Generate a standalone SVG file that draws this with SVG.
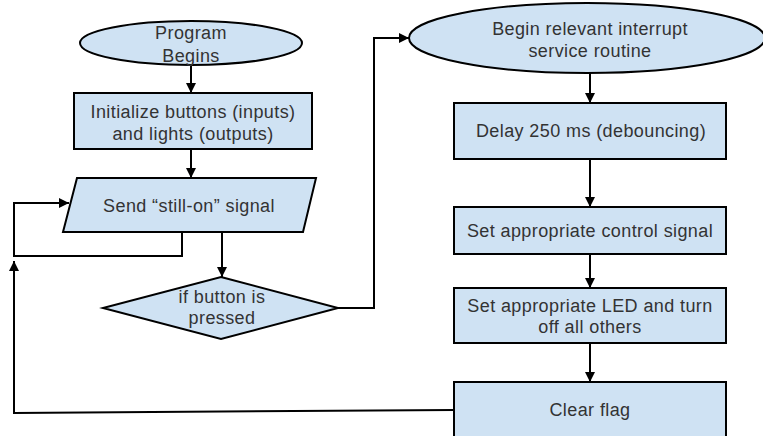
<svg xmlns="http://www.w3.org/2000/svg" width="763" height="436" viewBox="0 0 763 436">
  <defs>
    <marker id="arrow" viewBox="0 0 10 10" refX="10" refY="5" markerWidth="10" markerHeight="10" markerUnits="userSpaceOnUse" orient="auto">
      <path d="M0,0 L10,5 L0,10 Z" fill="#000"/>
    </marker>
  </defs>
  <style>
    .shape { fill: #cfe2f3; stroke: #000; stroke-width: 2; }
    .label { font-family: "Liberation Sans", Arial, sans-serif; font-size: 18px; letter-spacing: 0.4px; fill: #333; text-anchor: middle; }
    .edge { fill: none; stroke: #000; stroke-width: 2; }
  </style>
  <rect width="763" height="436" fill="#fff"/>

  <g id="connectors">
    <!-- main column on the left -->
    <line class="edge" x1="191" y1="65" x2="191" y2="93" marker-end="url(#arrow)"/>
    <line class="edge" x1="191" y1="149" x2="191" y2="178" marker-end="url(#arrow)"/>
    <line class="edge" x1="222" y1="232" x2="222" y2="277" marker-end="url(#arrow)"/>
    <!-- still-on loop -->
    <polyline class="edge" points="182,232 182,256 14,256 14,203 69,203" marker-end="url(#arrow)"/>
    <!-- decision to ISR -->
    <polyline class="edge" points="338,308 374,308 374,38 409,38" marker-end="url(#arrow)"/>
    <!-- ISR column -->
    <line class="edge" x1="590" y1="73" x2="590" y2="103" marker-end="url(#arrow)"/>
    <line class="edge" x1="590" y1="159" x2="590" y2="207" marker-end="url(#arrow)"/>
    <line class="edge" x1="590" y1="254" x2="590" y2="288" marker-end="url(#arrow)"/>
    <line class="edge" x1="590" y1="343" x2="590" y2="382" marker-end="url(#arrow)"/>
    <!-- return from clear flag -->
    <polyline class="edge" points="454,410 14,413 14,261" marker-end="url(#arrow)"/>
  </g>

  <g id="program-begins">
    <ellipse class="shape" cx="191" cy="43" rx="111" ry="22"/>
    <text class="label" x="191" y="39">Program</text>
    <text class="label" x="191" y="62">Begins</text>
  </g>

  <g id="initialize">
    <rect class="shape" x="74" y="93" width="238" height="56"/>
    <text class="label" x="193" y="118">Initialize buttons (inputs)</text>
    <text class="label" x="193" y="140">and lights (outputs)</text>
  </g>

  <g id="send-signal">
    <polygon class="shape" points="77,178 316,178 303,232 63,232"/>
    <text class="label" x="189" y="212">Send “still-on” signal</text>
  </g>

  <g id="button-check">
    <polygon class="shape" points="221,277 338,308 221,339 103,308"/>
    <text class="label" x="222" y="303">if button is</text>
    <text class="label" x="222" y="324">pressed</text>
  </g>

  <g id="isr-begin">
    <ellipse class="shape" cx="587" cy="38" rx="178" ry="35"/>
    <text class="label" x="590" y="35">Begin relevant interrupt</text>
    <text class="label" x="590" y="57">service routine</text>
  </g>

  <g id="delay">
    <rect class="shape" x="454" y="103" width="272" height="56"/>
    <text class="label" x="591" y="137">Delay 250 ms (debouncing)</text>
  </g>

  <g id="control-signal">
    <rect class="shape" x="454" y="207" width="272" height="47"/>
    <text class="label" x="590" y="237">Set appropriate control signal</text>
  </g>

  <g id="set-led">
    <rect class="shape" x="454" y="288" width="272" height="55"/>
    <text class="label" x="590" y="312">Set appropriate LED and turn</text>
    <text class="label" x="590" y="333">off all others</text>
  </g>

  <g id="clear-flag">
    <rect class="shape" x="454" y="382" width="272" height="60"/>
    <text class="label" x="590" y="416">Clear flag</text>
  </g>
</svg>
